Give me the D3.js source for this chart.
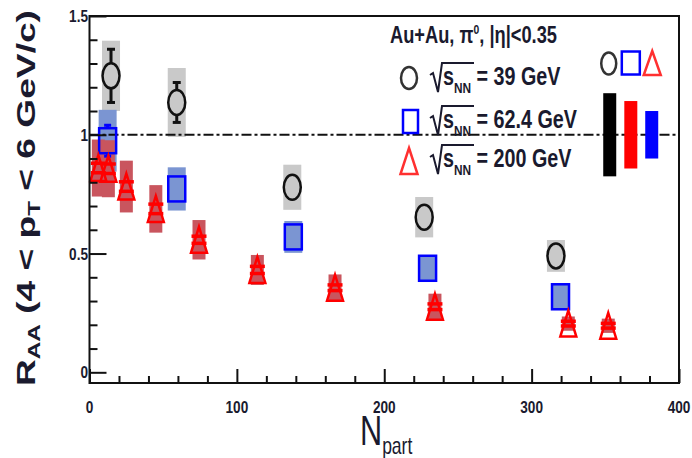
<!DOCTYPE html>
<html>
<head>
<meta charset="utf-8">
<script src="https://cdn.jsdelivr.net/npm/d3@7"></script>
<style>
body { margin: 0; background: #fff; }
svg { display: block; }
text { font-family: "Liberation Sans", Arial, sans-serif; fill: #1a1a2e; }
</style>
</head>
<body>
<div id="chart"></div>
<script>
// sqrt(sNN) = 39 GeV
var npart39 = [14.6, 59.2, 137.6, 227.1, 316.5];
var raa39   = [1.248, 1.136, 0.779, 0.653, 0.490];
var stat39  = [0.112, 0.084, 0.03, 0.02, 0.02];
var sys39   = [0.148, 0.145, 0.095, 0.085, 0.067];

// 62.4 GeV
var npart62 = [12.3, 59.2, 138.3, 229.4, 319.6];
var raa62   = [0.975, 0.772, 0.570, 0.438, 0.318];
var stat62  = [0.065, 0.02, 0.015, 0.015, 0.015];
var sys62   = [0.13, 0.091, 0.067, 0.055, 0.055];

// 200 GeV
var npart200 = [6.0, 12.8, 25.0, 45.0, 74.3, 113.9, 166.6, 234.4, 324.9, 352.0];
var raa200   = [0.86, 0.857, 0.782, 0.688, 0.558, 0.431, 0.356, 0.276, 0.205, 0.196];
var stat200  = [0.02, 0.02, 0.02, 0.02, 0.015, 0.015, 0.012, 0.012, 0.01, 0.01];
var sys200   = [0.12, 0.12, 0.109, 0.10, 0.083, 0.063, 0.056, 0.055, 0.03, 0.03];

// normalisation uncertainties (black, red, blue) at RAA = 1
var normNpart = [353.0, 367.3, 381.5];
var normSys   = [0.175, 0.142, 0.10];

var xTicks = [0, 100, 200, 300, 400];
var yTicks = [0, 0.5, 1, 1.5];
var yTickLabels = ["0", "0.5", "1", "1.5"];
var legendLabels = ["= 39 GeV", "= 62.4 GeV", "= 200 GeV"];

var width = 692, height = 458;
var plotL = 89.5, plotR = 679, plotT = 16, plotB = 383;

var svg = d3.select('#chart').append('svg')
    .attr('width', width)
    .attr('height', height);

var x = d3.scaleLinear().domain([0, 400]).range([plotL, plotR]);
var y = d3.scaleLinear().domain([-0.045, 1.5]).range([plotB, plotT]);

function boxes(xs, ys, es, w, color) {
    svg.append('g').selectAll('rect').data(xs).enter().append('rect')
        .attr('x', function(d) { return x(d) - w / 2; })
        .attr('y', function(d, i) { return y(ys[i] + es[i]); })
        .attr('width', w)
        .attr('height', function(d, i) { return y(ys[i] - es[i]) - y(ys[i] + es[i]); })
        .attr('fill', color);
}

// error bars drawn only outside the marker, like ROOT does
function errs(xs, ys, es, capW, color, sw, half, capsAlways) {
    var g = svg.append('g').attr('stroke', color).attr('stroke-width', sw);
    xs.forEach(function(d, i) {
        var cx = x(d), cy = y(ys[i]);
        var y1 = y(ys[i] + es[i]), y2 = y(ys[i] - es[i]);
        var outside = (cy - y1) > half;
        if (outside) {
            g.append('line').attr('x1', cx).attr('x2', cx).attr('y1', y1).attr('y2', cy - half);
            g.append('line').attr('x1', cx).attr('x2', cx).attr('y1', cy + half).attr('y2', y2);
        }
        if (outside || capsAlways) {
            g.append('line').attr('x1', cx - capW / 2).attr('x2', cx + capW / 2).attr('y1', y1).attr('y2', y1);
            g.append('line').attr('x1', cx - capW / 2).attr('x2', cx + capW / 2).attr('y1', y2).attr('y2', y2);
        }
    });
}

function triPath(cx, cy, w, h) {
    return 'M' + cx + ',' + (cy - h / 2) + 'L' + (cx + w / 2) + ',' + (cy + h / 2) +
        'L' + (cx - w / 2) + ',' + (cy + h / 2) + 'Z';
}

// systematic boxes
boxes(npart39, raa39, sys39, 18, '#c9c9c9');
boxes(npart62, raa62, sys62, 18, '#7b95d2');
boxes(npart200, raa200, sys200, 13, '#c9555e');

// reference line at 1
svg.append('line')
    .attr('x1', plotL).attr('x2', plotR)
    .attr('y1', y(1)).attr('y2', y(1))
    .attr('stroke', '#111').attr('stroke-width', 2)
    .attr('stroke-dasharray', '10,3,3,3');

// normalisation bars
var normColors = ['#000000', '#ff0000', '#0000ff'];
svg.append('g').selectAll('rect').data(normNpart).enter().append('rect')
    .attr('x', function(d) { return x(d) - 6.5; })
    .attr('y', function(d, i) { return y(1 + normSys[i]); })
    .attr('width', 13)
    .attr('height', function(d, i) { return y(1 - normSys[i]) - y(1 + normSys[i]); })
    .attr('fill', function(d, i) { return normColors[i]; });

// stat errors
errs(npart39, raa39, stat39, 8, '#111', 3, 12.5, false);
errs(npart62, raa62, stat62, 7, '#0000ff', 3, 12.5, false);
errs(npart200, raa200, stat200, 15, '#ff0000', 3.5, 13, true);

// markers
svg.append('g').selectAll('ellipse').data(npart39).enter().append('ellipse')
    .attr('cx', function(d) { return x(d); })
    .attr('cy', function(d, i) { return y(raa39[i]); })
    .attr('rx', 8.5).attr('ry', 12.5)
    .attr('fill', 'none').attr('stroke', '#111').attr('stroke-width', 2.5);

svg.append('g').selectAll('rect').data(npart62).enter().append('rect')
    .attr('x', function(d) { return x(d) - 8.5; })
    .attr('y', function(d, i) { return y(raa62[i]) - 12.5; })
    .attr('width', 17).attr('height', 25)
    .attr('fill', 'none').attr('stroke', '#0000ff').attr('stroke-width', 2.5);

svg.append('g').selectAll('path').data(npart200).enter().append('path')
    .attr('d', function(d, i) { return triPath(x(d), y(raa200[i]), 16, 26); })
    .attr('fill', 'none').attr('stroke', '#ff0000').attr('stroke-width', 2.5);

// symbols above the normalisation bars
var symY = y(1.30);
svg.append('ellipse').attr('cx', x(normNpart[0]) - 1).attr('cy', symY)
    .attr('rx', 7.5).attr('ry', 11)
    .attr('fill', 'none').attr('stroke', '#333').attr('stroke-width', 2.5);
svg.append('rect').attr('x', x(normNpart[1]) - 9).attr('y', symY - 12)
    .attr('width', 18).attr('height', 23)
    .attr('fill', 'none').attr('stroke', '#0000ff').attr('stroke-width', 2.5);
svg.append('path').attr('d', triPath(x(normNpart[2]) + 0.5, symY - 0.5, 17, 24))
    .attr('fill', 'none').attr('stroke', '#ff3030').attr('stroke-width', 2.5);

// axes ticks (inward)
var yMinor = d3.range(0, 1.51, 0.1).filter(function(v) { return Math.abs(v * 2 - Math.round(v * 2)) > 0.01; });
var xMinor = d3.range(0, 401, 20).filter(function(v) { return v % 100 !== 0; });

function tickStyle(g) {
    g.select('.domain').remove();
    g.selectAll('line').attr('stroke', '#111').attr('stroke-width', 2);
    g.selectAll('text').remove();
}

svg.append('g').attr('transform', 'translate(' + plotL + ',0)')
    .call(d3.axisRight(y).tickValues(yTicks).tickSize(17)).call(tickStyle);
svg.append('g').attr('transform', 'translate(' + plotL + ',0)')
    .call(d3.axisRight(y).tickValues(yMinor).tickSize(8)).call(tickStyle);
svg.append('g').attr('transform', 'translate(0,' + plotB + ')')
    .call(d3.axisTop(x).tickValues(xTicks).tickSize(14)).call(tickStyle);
svg.append('g').attr('transform', 'translate(0,' + plotB + ')')
    .call(d3.axisTop(x).tickValues(xMinor).tickSize(7)).call(tickStyle);

// frame
svg.append('rect')
    .attr('x', plotL).attr('y', plotT)
    .attr('width', plotR - plotL).attr('height', plotB - plotT)
    .attr('fill', 'none').attr('stroke', '#111').attr('stroke-width', 2);

// tick labels
svg.append('g').selectAll('g').data(yTicks).enter().append('g')
    .attr('transform', function(d) { return 'translate(88,' + (y(d) + 6) + ') scale(0.85,1)'; })
    .append('text')
    .attr('text-anchor', 'end')
    .attr('font-size', 16).attr('font-weight', 'bold')
    .text(function(d, i) { return yTickLabels[i]; });

svg.append('g').selectAll('g').data(xTicks).enter().append('g')
    .attr('transform', function(d) { return 'translate(' + x(d) + ',413) scale(0.85,1)'; })
    .append('text')
    .attr('text-anchor', 'middle')
    .attr('font-size', 16).attr('font-weight', 'bold')
    .text(function(d) { return d; });

// axis titles
var yt = svg.append('text')
    .attr('transform', 'translate(35,386) rotate(-90)')
    .attr('font-size', 26).attr('font-weight', 'bold')
    .attr('textLength', 376).attr('lengthAdjust', 'spacingAndGlyphs');
yt.append('tspan').text('R');
yt.append('tspan').attr('font-size', 17).attr('dy', 5).text('AA');
yt.append('tspan').attr('dy', -5).text(' (4 < p');
yt.append('tspan').attr('font-size', 17).attr('dy', 5).text('T');
yt.append('tspan').attr('dy', -5).text(' < 6 GeV/c)');

var xt = svg.append('g').attr('transform', 'translate(360,445) scale(0.73,1)')
    .append('text').attr('font-size', 42);
xt.append('tspan').text('N');
xt.append('tspan').attr('font-size', 24).attr('dy', 9).text('part');

// legend
var hd = svg.append('text')
    .attr('x', 390).attr('y', 43)
    .attr('font-size', 23).attr('font-weight', 'bold')
    .attr('textLength', 167).attr('lengthAdjust', 'spacingAndGlyphs');
hd.append('tspan').text('Au+Au, \u03c0');
hd.append('tspan').attr('font-size', 13).attr('dy', -9).text('0');
hd.append('tspan').attr('dy', 9).text(', |\u03b7|<0.35');

var rowY = [85, 128, 167];
rowY.forEach(function(b, i) {
    svg.append('path')
        .attr('d', 'M430,' + (b - 10) + 'L433,' + (b - 12) + 'L438,' + (b + 7) +
            'L442,' + (b - 22) + 'L474,' + (b - 22))
        .attr('fill', 'none').attr('stroke', '#1a1a2e').attr('stroke-width', 2);
    var t = svg.append('g').attr('transform', 'translate(443,' + b + ') scale(0.79,1)')
        .append('text').attr('font-size', 25).attr('font-weight', 'bold');
    t.append('tspan').text('s');
    t.append('tspan').attr('font-size', 15).attr('dy', 8).text('NN');
    t.append('tspan').attr('dy', -8).text(' ' + legendLabels[i]);
});

svg.append('ellipse').attr('cx', 409).attr('cy', 78).attr('rx', 8).attr('ry', 11)
    .attr('fill', 'none').attr('stroke', '#333').attr('stroke-width', 2.5);
svg.append('rect').attr('x', 403).attr('y', 110).attr('width', 15).attr('height', 23)
    .attr('fill', 'none').attr('stroke', '#0000ff').attr('stroke-width', 2.5);
svg.append('path').attr('d', triPath(409, 161, 17, 26))
    .attr('fill', 'none').attr('stroke', '#ff3030').attr('stroke-width', 2.5);
</script>
</body>
</html>
